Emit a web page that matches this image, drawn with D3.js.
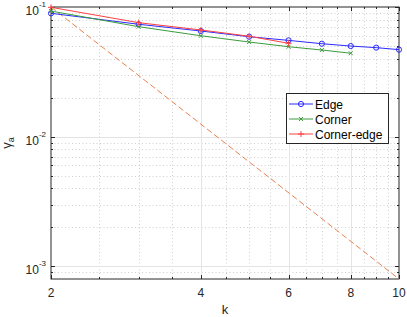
<!DOCTYPE html>
<html><head><meta charset="utf-8">
<script src="https://cdn.jsdelivr.net/npm/d3@7/dist/d3.min.js"></script>
<style>body{margin:0;background:#fff}svg{display:block;font-family:"Liberation Sans",Arial,sans-serif}</style>
</head><body><svg id="c" width="407" height="317"></svg>
<script>
const kEdge = [2,3,4,5,6,7,8,9,10];
const edge = [0.0894,0.0736,0.0653,0.0590,0.0553,0.0521,0.0500,0.0486,0.0469];
const kCorner = [2,3,4,5,6,7,8];
const corner = [0.0930,0.0705,0.0600,0.0537,0.0494,0.0466,0.0440];
const kCornerEdge = [2,3,4,5,6];
const cornerEdge = [0.0995,0.0757,0.0665,0.0595,0.0525];
const kRef = [2,10];
const ref = [0.1,0.0008];
const xTicks = [2,4,6,8,10];
const xMinor = [2.5,3,3.5,4.5,5,5.5,6.5,7,7.5,8.5,9,9.5];
const yTicks = [1e-3,1e-2,1e-1];
const yExp = ["-3","-2","-1"];
const seriesNames = ["Edge","Corner","Corner-edge"];

const svg = d3.select("#c");
const L=51,R=399,T=7,B=279;
const x = d3.scaleLog().domain([2,10]).range([L,R]);
const y = d3.scaleLog().domain([8e-4,0.1]).range([B,T]);
const axc="#262626";

const yMinor=[];
[1e-3,1e-2].forEach(d=>{for(let m=2;m<=9;m++)yMinor.push(d*m);});
yMinor.push(9e-4);

const g=svg.append("g");
// minor grid
g.selectAll(".xm").data(xMinor).join("line").attr("x1",d=>Math.round(x(d))+0.5).attr("x2",d=>Math.round(x(d))+0.5).attr("y1",T).attr("y2",B)
 .attr("stroke","#cfcfcf").attr("stroke-width",1).attr("stroke-dasharray","1,2.5");
g.selectAll(".ym").data(yMinor).join("line").attr("y1",d=>Math.round(y(d))+0.5).attr("y2",d=>Math.round(y(d))+0.5).attr("x1",L).attr("x2",R)
 .attr("stroke","#cfcfcf").attr("stroke-width",1).attr("stroke-dasharray","1,2.5");
// major grid
g.selectAll(".xM").data(xTicks.slice(1,-1)).join("line").attr("x1",d=>Math.round(x(d))+0.5).attr("x2",d=>Math.round(x(d))+0.5).attr("y1",T).attr("y2",B)
 .attr("stroke","#e4e4e4").attr("stroke-width",1);
g.selectAll(".yM").data(yTicks.slice(0,2)).join("line").attr("y1",d=>Math.round(y(d))+0.5).attr("y2",d=>Math.round(y(d))+0.5).attr("x1",L).attr("x2",R)
 .attr("stroke","#e4e4e4").attr("stroke-width",1);

// ticks (inward, both sides)
const tk=(vals,len,axis)=>{
  vals.forEach(v=>{
    if(axis==="x"){
      const px=Math.round(x(v))+0.5;
      g.append("line").attr("x1",px).attr("x2",px).attr("y1",B).attr("y2",B-len).attr("stroke",axc);
      g.append("line").attr("x1",px).attr("x2",px).attr("y1",T).attr("y2",T+len).attr("stroke",axc);
    } else {
      const py=Math.round(y(v))+0.5;
      g.append("line").attr("y1",py).attr("y2",py).attr("x1",L).attr("x2",L+len).attr("stroke",axc);
      g.append("line").attr("y1",py).attr("y2",py).attr("x1",R).attr("x2",R-len).attr("stroke",axc);
    }
  });
};
tk(xTicks,4,"x");tk(xMinor,2,"x");tk(yTicks,4,"y");tk(yMinor,2,"y");

// box
g.append("rect").attr("x",L).attr("y",T).attr("width",R-L).attr("height",B-T).attr("fill","none").attr("stroke",axc).attr("stroke-width",1);

// tick labels
g.selectAll(".xl").data(xTicks).join("text").attr("x",d=>x(d)).attr("y",297).attr("text-anchor","middle")
 .attr("font-size",12).attr("fill",axc).text(d=>d);
yTicks.forEach((v,i)=>{
  const py=y(v);
  const t=g.append("text").attr("x",46).attr("y",py+8).attr("text-anchor","end").attr("font-size",12).attr("fill",axc);
  t.append("tspan").text("10");
  t.append("tspan").attr("dy",-8).attr("font-size",8).text(yExp[i]);
});
// axis labels
g.append("text").attr("x",(L+R)/2).attr("y",314).attr("text-anchor","middle").attr("font-size",13).attr("fill",axc).text("k");
const yl=g.append("text").attr("transform",`translate(11,${(T+B)/2}) rotate(-90)`).attr("text-anchor","middle").attr("font-size",13).attr("fill",axc);
yl.append("tspan").text("γ");
yl.append("tspan").attr("font-size",9).attr("dy",3).text("a");

// data
const line=d3.line().x(d=>x(d[0])).y(d=>y(d[1]));
const clip=svg.append("clipPath").attr("id","clp").append("rect").attr("x",L).attr("y",T).attr("width",R-L).attr("height",B-T);
const dg=svg.append("g");
dg.append("path").datum(d3.zip(kRef,ref)).attr("d",line).attr("fill","none").attr("stroke","#e8814e").attr("stroke-width",1).attr("stroke-dasharray","6,3").attr("clip-path","url(#clp)");

const cols=["#2b2bff","#3c9c3c","#ff4040"];
const sets=[d3.zip(kEdge,edge),d3.zip(kCorner,corner),d3.zip(kCornerEdge,cornerEdge)];
const marker=(sel,type,col,cx,cy)=>{
  if(type===0) sel.append("circle").attr("cx",cx).attr("cy",cy).attr("r",2.6).attr("fill","none").attr("stroke",col);
  else if(type===1){const s=2;sel.append("path").attr("d",`M${cx-s},${cy-s}L${cx+s},${cy+s}M${cx-s},${cy+s}L${cx+s},${cy-s}`).attr("stroke",col);}
  else {const s=3;sel.append("path").attr("d",`M${cx-s},${cy}L${cx+s},${cy}M${cx},${cy-s}L${cx},${cy+s}`).attr("stroke",col);}
};
sets.forEach((s,i)=>{
  dg.append("path").datum(s).attr("d",line).attr("fill","none").attr("stroke",cols[i]).attr("stroke-width",1);
  s.forEach(p=>marker(dg,i,cols[i],x(p[0]),y(p[1])));
});

// legend
const lg=svg.append("g");
lg.append("rect").attr("x",286.5).attr("y",93.5).attr("width",102).attr("height",50).attr("fill","#fff").attr("stroke",axc);
seriesNames.forEach((n,i)=>{
  const ly=104+i*15;
  lg.append("line").attr("x1",289).attr("x2",313).attr("y1",ly).attr("y2",ly).attr("stroke",cols[i]);
  marker(lg,i,cols[i],301,ly);
  lg.append("text").attr("x",315).attr("y",ly+4.5).attr("font-size",12).attr("fill","#000").text(n);
});
</script></body></html>
